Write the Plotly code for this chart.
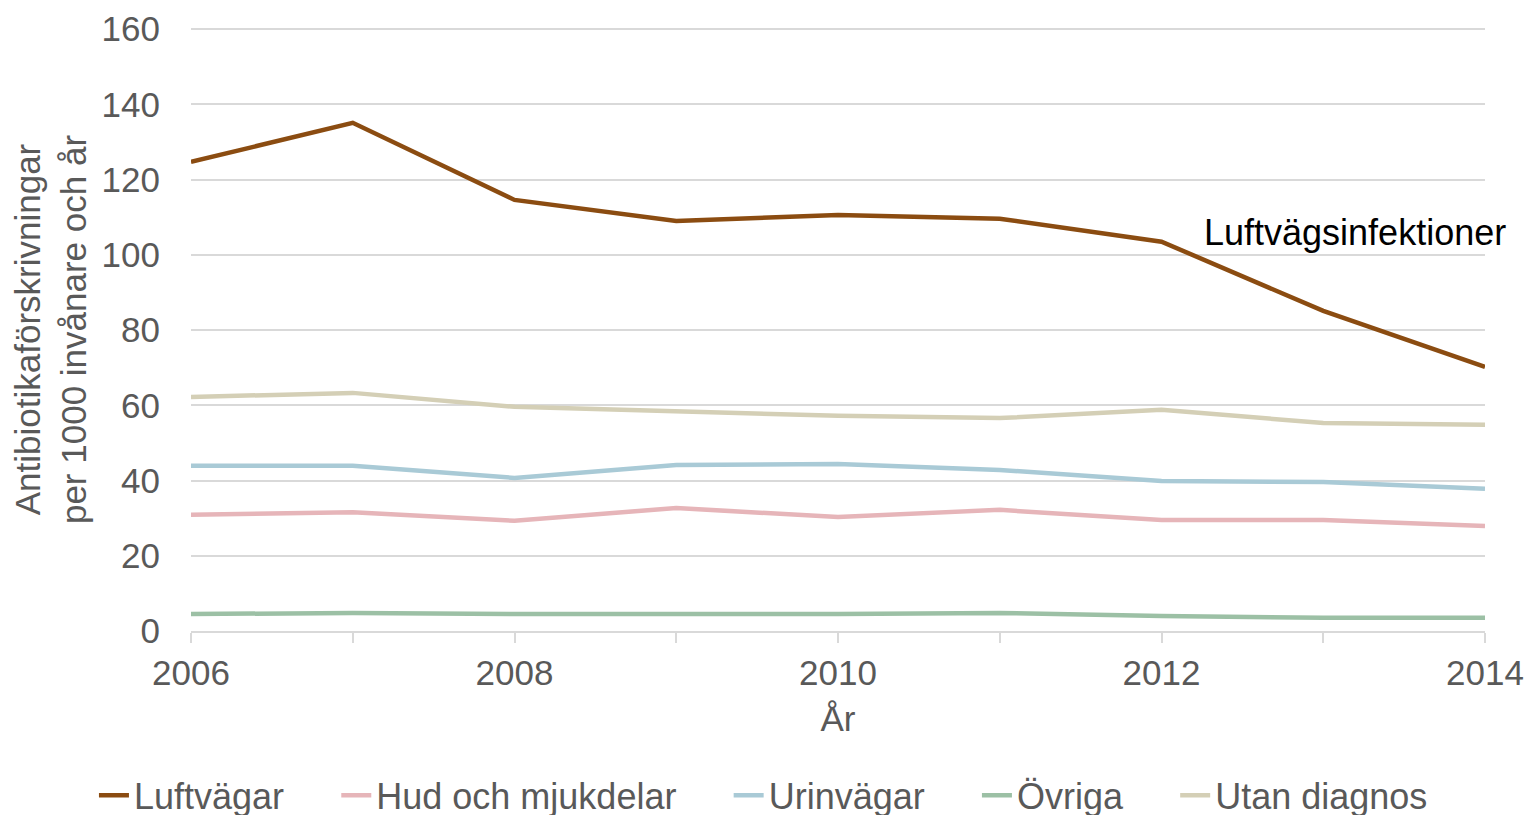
import plotly.graph_objects as go

years = [2006, 2007, 2008, 2009, 2010, 2011, 2012, 2013, 2014]
luftvagar = [124.7, 135.1, 114.6, 109.0, 110.6, 109.6, 103.5, 85.1, 70.2]
hud = [30.9, 31.6, 29.3, 32.7, 30.3, 32.2, 29.5, 29.5, 27.9]
urinvagar = [43.9, 43.9, 40.7, 44.1, 44.4, 42.8, 39.9, 39.6, 37.8]
ovriga = [4.5, 4.8, 4.5, 4.5, 4.5, 4.8, 4.0, 3.5, 3.5]
utan = [62.2, 63.3, 59.6, 58.5, 57.2, 56.6, 58.8, 55.3, 54.8]

series = [
    ("Luftvägar", luftvagar, "#8B4C11"),
    ("Hud och mjukdelar", hud, "#E6B5B9"),
    ("Urinvägar", urinvagar, "#A9CAD6"),
    ("Övriga", ovriga, "#9CC0A5"),
    ("Utan diagnos", utan, "#D4CFB6"),
]

FONT = "Liberation Sans, Arial, sans-serif"
PAD = "\u00a0\u00a0\u00a0\u00a0\u2009"

fig = go.Figure()
for i, (name, vals, col) in enumerate(series):
    label = name + (PAD if i < len(series) - 1 else "")
    fig.add_trace(go.Scatter(x=years, y=vals, name=label, mode="lines",
                             line=dict(color=col, width=4.5)))

fig.add_annotation(x=2012.25, y=105.9, text="Luftvägsinfektioner", showarrow=False,
                   xanchor="left", yanchor="middle",
                   font=dict(family=FONT, size=36, color="#000000"))

fig.update_layout(
    width=1518, height=815,
    margin=dict(l=183, r=41, t=20, b=192, autoexpand=False),
    paper_bgcolor="white", plot_bgcolor="white",
    font=dict(family=FONT, size=35, color="#595959"),
    showlegend=True,
    legend=dict(orientation="h", xref="paper", yref="paper",
                x=-0.075, xanchor="left", y=-0.2724, yanchor="middle",
                font=dict(family=FONT, size=36, color="#595959")),
    xaxis=dict(range=[2006, 2014], tickmode="array", tickvals=[2006, 2008, 2010, 2012, 2014],
               ticktext=["2006", "2008", "2010", "2012", "2014"],
               automargin=False,
               showgrid=False, showline=True, linecolor="#D9D9D9", linewidth=1.5,
               ticks="outside", ticklen=10, tickcolor="#D9D9D9", tickwidth=1.5,
               minor=dict(tickvals=years, ticks="outside", ticklen=10, tickcolor="#D9D9D9", tickwidth=1.5),
               tickfont=dict(size=35, color="#595959"),
               title=dict(text="År", font=dict(size=35, color="#595959"), standoff=16),
               zeroline=False),
    yaxis=dict(range=[0, 160.3], tickvals=[0, 20, 40, 60, 80, 100, 120, 140, 160],
               automargin=False,
               showgrid=True, gridcolor="#D9D9D9", gridwidth=1.5,
               showline=False, zeroline=False, ticks="",
               ticklabelstandoff=30,
               tickfont=dict(size=35, color="#595959"),
               title=dict(text="Antibiotikaförskrivningar<br>per 1000 invånare och år",
                          font=dict(size=35, color="#595959"), standoff=20)),
)

fig.write_html("out.html")
